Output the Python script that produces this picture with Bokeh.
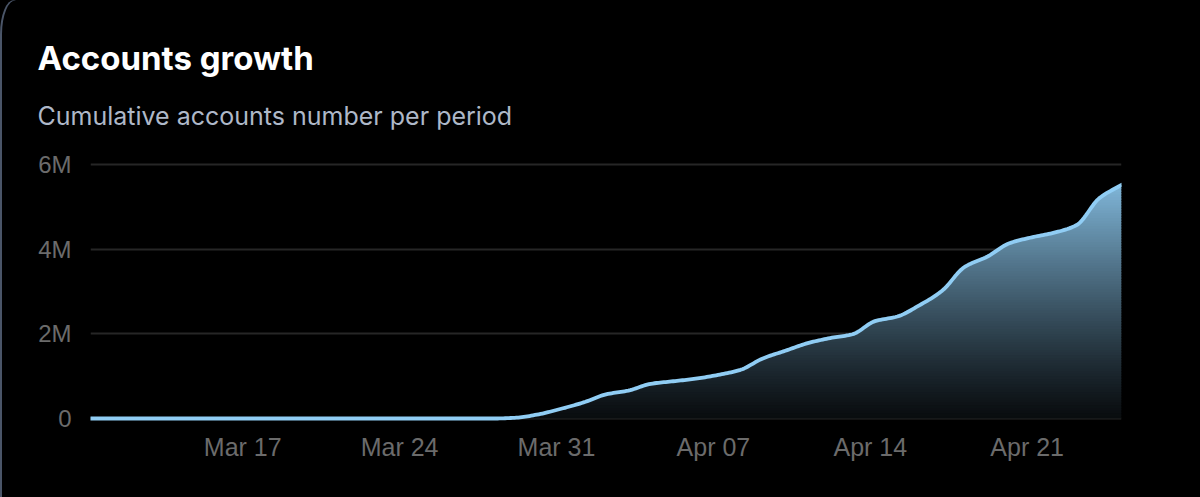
import numpy as np
import pandas as pd
from bokeh.plotting import figure
from bokeh.layouts import column
from bokeh.models import FixedTicker, DatetimeTickFormatter, Title, Range1d
from bokeh.embed import file_html
from bokeh.resources import INLINE

# ---- data ----
start_date = "2024-03-10 05:00"
accounts = [0, 0, 0, 0, 0, 0, 0, 0, 0, 0, 0, 0, 0, 0, 0, 0, 0, 0, 0,
            20000, 100000, 230000, 380000, 570000, 660000, 820000, 880000,
            940000, 1030000, 1150000, 1420000, 1600000, 1780000, 1900000,
            1990000, 2300000, 2410000, 2680000, 3020000, 3580000, 3820000,
            4140000, 4280000, 4390000, 4570000, 5200000, 5520000]
x_tick_dates = ["2024-03-17", "2024-03-24", "2024-03-31", "2024-04-07", "2024-04-14", "2024-04-21"]
y_ticks = [0, 2000000, 4000000, 6000000]
y_tick_labels = ["0", "2M", "4M", "6M"]
title_text = "Accounts growth"
subtitle_text = "Cumulative accounts number per period"

dates = pd.date_range(start_date, periods=len(accounts), freq="D")
xd = (dates - pd.Timestamp("1970-01-01")) // pd.Timedelta(milliseconds=1)
xd = np.asarray(xd, dtype=float)
yv = np.asarray(accounts, dtype=float)

# monotone cubic (Fritsch-Carlson) path for a smooth rendered curve
def monotone_path(x, y, n=12):
    h = np.diff(x)
    d = np.diff(y) / h
    m = np.zeros_like(y)
    m[0], m[-1] = d[0], d[-1]
    for i in range(1, len(y) - 1):
        if d[i - 1] * d[i] <= 0:
            m[i] = 0
        else:
            w1 = 2 * h[i] + h[i - 1]
            w2 = h[i] + 2 * h[i - 1]
            m[i] = (w1 + w2) / (w1 / d[i - 1] + w2 / d[i])
    xs, ys = [], []
    for i in range(len(x) - 1):
        t = np.linspace(0, 1, n, endpoint=False)
        h00 = 2 * t**3 - 3 * t**2 + 1
        h10 = t**3 - 2 * t**2 + t
        h01 = -2 * t**3 + 3 * t**2
        h11 = t**3 - t**2
        xs.append(x[i] + t * h[i])
        ys.append(h00 * y[i] + h10 * h[i] * m[i] + h01 * y[i + 1] + h11 * h[i] * m[i + 1])
    xs.append([x[-1]])
    ys.append([y[-1]])
    return np.concatenate(xs), np.concatenate(ys)

sx, sy = monotone_path(xd, yv)
sy = np.maximum(sy, 0)

W, H = 1200, 497
p = figure(width=W, height=H, x_axis_type="datetime", output_backend="svg",
           toolbar_location=None, min_border_left=90, min_border_right=79,
           min_border_top=150, min_border_bottom=72,
           background_fill_color="#000000", border_fill_color="#000000",
           border_fill_alpha=0.0)
p.styles = {"background-color": "#000000", "border-top-left-radius": "14px 34px",
            "box-shadow": "inset 2px 0 0 0 #4a5568"}
p.outline_line_color = None
p.x_range = Range1d(xd[0], xd[-1])
p.y_range = Range1d(-165000, 6331000)

# gradient fill (vertical), built as overlapping stacked bands clipped to the curve
line_rgb = (0x90, 0xCD, 0xF4)
top_val = 5600000
n_bands = 90
levels = np.linspace(0, top_val, n_bands + 1)
step = levels[1] - levels[0]
for k in range(n_bands):
    lo = np.minimum(sy, levels[k])
    hi = np.minimum(sy, levels[k + 1] + 0.6 * step)
    if np.all(hi - lo <= 0):
        continue
    f = (levels[k] + levels[k + 1]) / 2 / top_val
    a = 0.06 + 0.84 * f ** 1.15
    c = tuple(int(round(v * a)) for v in line_rgb)
    col = "#%02x%02x%02x" % c
    p.varea(x=sx, y1=lo, y2=hi, fill_color=col, fill_alpha=1.0)

p.line(sx, sy, line_color="#90cdf4", line_width=3.8, line_join="round", line_cap="round")

# axes
p.xaxis.ticker = FixedTicker(ticks=[pd.Timestamp(d).value // 10**6 for d in x_tick_dates])
p.xaxis.formatter = DatetimeTickFormatter(days="%b %d", months="%b %d")
p.yaxis.ticker = FixedTicker(ticks=y_ticks)
p.yaxis.major_label_overrides = {t: l for t, l in zip(y_ticks, y_tick_labels)}
for ax in (p.xaxis, p.yaxis):
    ax.axis_line_color = None
    ax.major_tick_line_color = None
    ax.minor_tick_line_color = None
    ax.major_tick_out = 0
    ax.minor_tick_out = 0
    ax.major_label_text_color = "#6b6b6b"
    ax.major_label_text_font = "Liberation Sans"
p.xaxis.major_label_text_font_size = "25px"
p.yaxis.major_label_text_font_size = "24px"
p.xaxis.major_label_standoff = 7
p.yaxis.major_label_standoff = 19
p.xgrid.grid_line_color = None
p.ygrid.grid_line_color = "#262626"
p.ygrid.grid_line_width = 2

# titles (subtitle first: closest to the plot)
p.add_layout(Title(text=subtitle_text, align="left", offset=-53, standoff=40,
                   text_font="Inter", text_font_size="25px", text_font_style="normal",
                   text_color="#aeb8c8"), "above")
p.add_layout(Title(text=title_text, align="left", offset=-53, standoff=2,
                   text_font="Inter", text_font_size="33px", text_font_style="bold",
                   text_color="#ffffff"), "above")

layout = column(p, width=W, height=H, styles={"background-color": "#000000"})
open("out.html", "w").write(file_html(layout, INLINE))
